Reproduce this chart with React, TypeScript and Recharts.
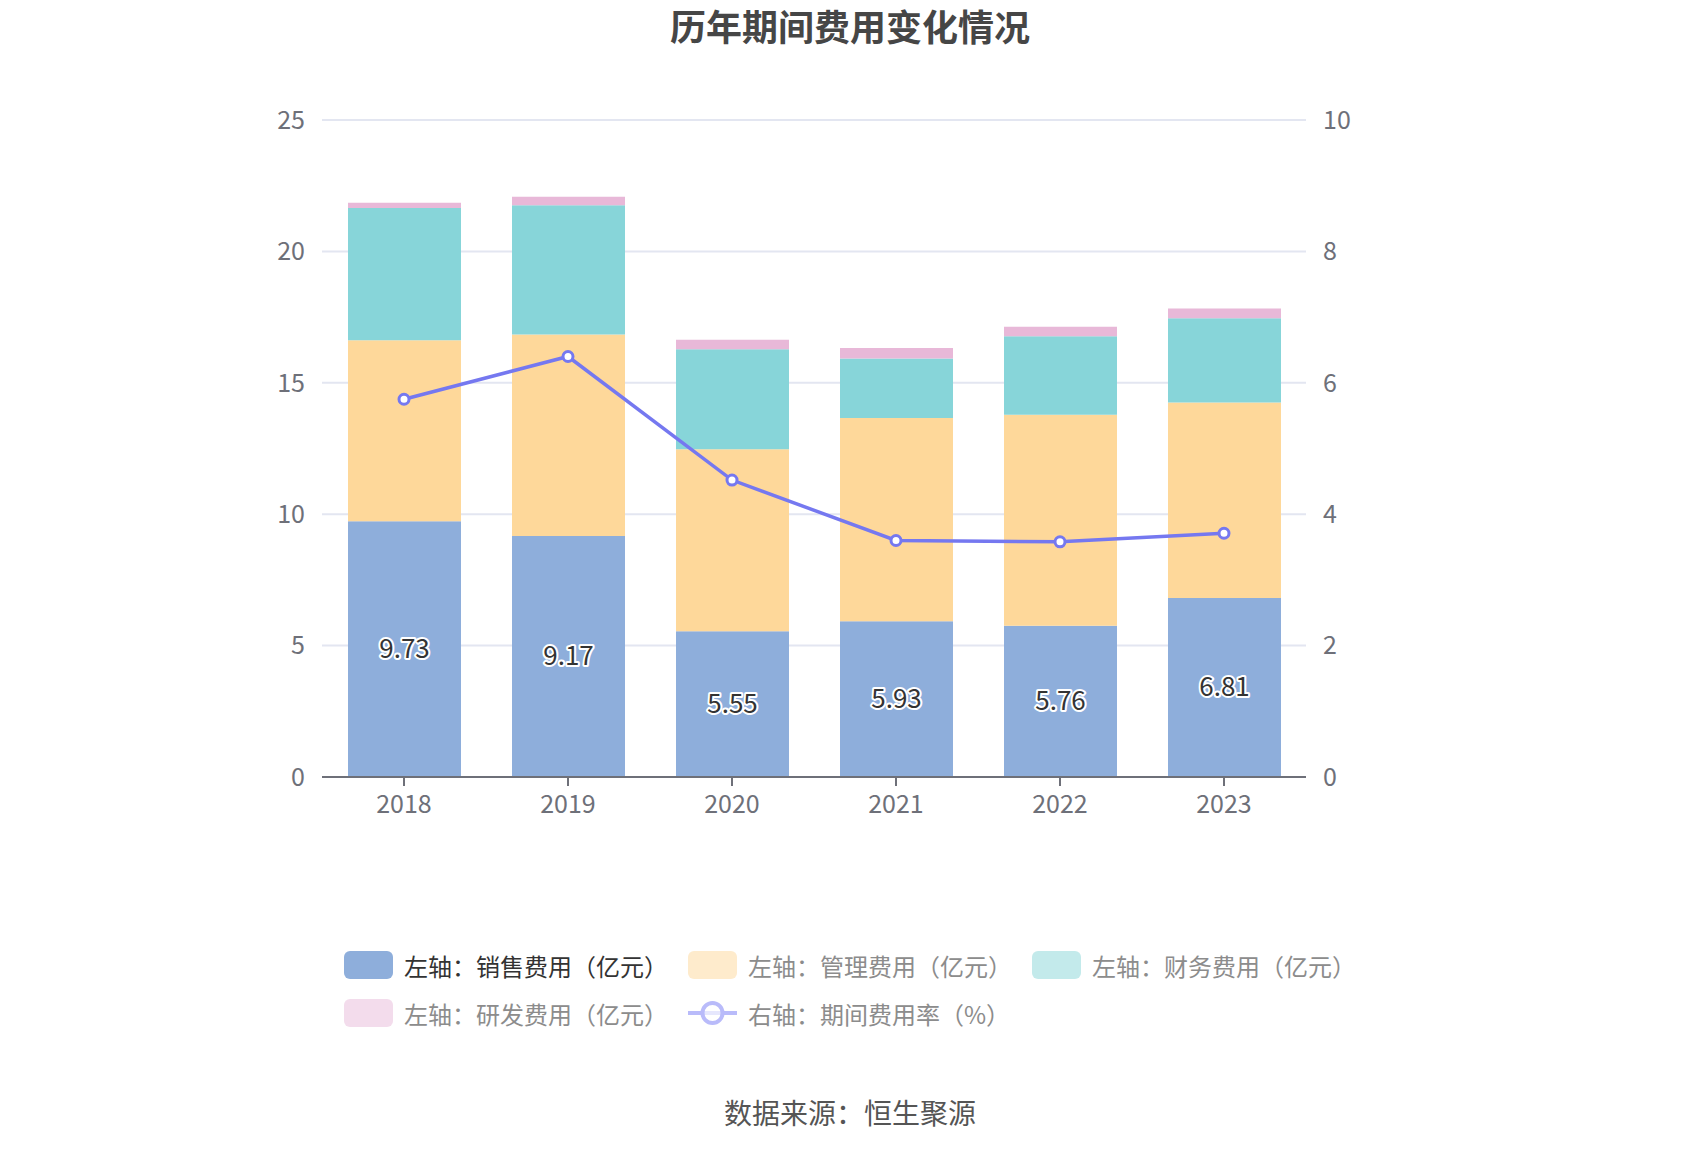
import React from 'react';
import { ComposedChart, Bar, Line, XAxis, YAxis, CartesianGrid, Legend, LabelList } from 'recharts';

const years = ['2018', '2019', '2020', '2021', '2022', '2023'];
const sales = [9.73, 9.17, 5.55, 5.93, 5.76, 6.81];
const mgmt = [6.89, 7.67, 6.92, 7.73, 8.02, 7.44];
const finance = [5.03, 4.92, 3.81, 2.26, 2.99, 3.21];
const rnd = [0.2, 0.32, 0.36, 0.4, 0.36, 0.37];
const rate = [5.75, 6.4, 4.52, 3.6, 3.58, 3.71];

const leftTicks = [0, 5, 10, 15, 20, 25];
const rightTicks = [0, 2, 4, 6, 8, 10];

const seriesNames = [
  '左轴：销售费用（亿元）',
  '左轴：管理费用（亿元）',
  '左轴：财务费用（亿元）',
  '左轴：研发费用（亿元）',
  '右轴：期间费用率（%）',
];

const data = years.map((y, i) => ({
  year: y,
  sales: sales[i],
  mgmt: mgmt[i],
  finance: finance[i],
  rnd: rnd[i],
  rate: rate[i],
}));

const FONT = '"Noto Sans CJK SC", "Noto Sans", sans-serif';
const C_SALES = '#8eaedb';
const C_MGMT = '#fed89a';
const C_FIN = '#87d5d9';
const C_RND = '#e8b8d8';
const C_LINE = '#7578f0';

const legendItems = [
  { name: seriesNames[0], color: C_SALES, text: '#333333', type: 'rect' },
  { name: seriesNames[1], color: '#feebcc', text: '#8c8c8c', type: 'rect' },
  { name: seriesNames[2], color: '#c3eaeb', text: '#8c8c8c', type: 'rect' },
  { name: seriesNames[3], color: '#f3dcec', text: '#8c8c8c', type: 'rect' },
  { name: seriesNames[4], color: '#b9bbfa', text: '#8c8c8c', type: 'line' },
];

const LegendContent = () => {
  const renderItem = (it: any) => (
    <div key={it.name} style={{ display: 'flex', alignItems: 'center', marginRight: 20, height: 48 }}>
      {it.type === 'rect' ? (
        <div style={{ width: 49, height: 28, borderRadius: 6, background: it.color }} />
      ) : (
        <svg width={49} height={28}>
          <line x1={0} y1={14} x2={49} y2={14} stroke={it.color} strokeWidth={4} />
          <circle cx={24.5} cy={14} r={10} fill="#fff" stroke={it.color} strokeWidth={4} />
          <line x1={14} y1={14} x2={35} y2={14} stroke={it.color} strokeWidth={4} opacity={0.35} />
        </svg>
      )}
      <span style={{ marginLeft: 11, fontSize: 24, color: it.text, fontFamily: FONT, whiteSpace: 'nowrap' }}>{it.name}</span>
    </div>
  );
  return (
    <div style={{ height: 96, width: 1100 }}>
      <div style={{ display: 'flex' }}>{legendItems.slice(0, 3).map(renderItem)}</div>
      <div style={{ display: 'flex' }}>{legendItems.slice(3).map(renderItem)}</div>
    </div>
  );
};

const SalesLabel = (props: any) => {
  const { x, y, width, height, value } = props;
  return (
    <text
      x={Number(x) + Number(width) / 2}
      y={Number(y) + Number(height) / 2 - 3}
      textAnchor="middle"
      dominantBaseline="central"
      fontSize={26}
      fontFamily={FONT}
      fill="#333"
      stroke="#fff"
      strokeWidth={4}
      strokeLinejoin="round"
      style={{ paintOrder: 'stroke' }}
    >
      {value}
    </text>
  );
};

export default function App() {
  return (
    <div style={{ position: 'absolute', left: 0, top: 0, width: 1700, height: 1150, background: '#fff', fontFamily: FONT }}>
      <div
        style={{
          position: 'absolute',
          left: 0,
          top: 0,
          width: 1700,
          height: 50,
          lineHeight: '50px',
          textAlign: 'center',
          fontSize: 36,
          fontWeight: 'bold',
          color: '#464646',
          fontFamily: FONT,
        }}
      >
        历年期间费用变化情况
      </div>
      <ComposedChart
        width={1700}
        height={1150}
        data={data}
        margin={{ top: 120, right: 294, bottom: 237, left: 0 }}
        barSize={113}
      >
        <CartesianGrid vertical={false} stroke="#e3e6f1" strokeWidth={2} yAxisId="left" />
        <XAxis
          dataKey="year"
          height={40}
          axisLine={{ stroke: '#6e7079', strokeWidth: 2 }}
          tickLine={{ stroke: '#6e7079', strokeWidth: 2 }}
          tickSize={9}
          tickMargin={9}
          tick={{ fontSize: 25, fill: '#6e7079', fontFamily: FONT }}
        />
        <YAxis
          yAxisId="left"
          orientation="left"
          width={322}
          domain={[0, 25]}
          ticks={leftTicks}
          axisLine={false}
          tickLine={false}
          tickSize={0}
          tickMargin={17}
          tick={{ fontSize: 25, fill: '#6e7079', fontFamily: FONT }}
        />
        <YAxis
          yAxisId="right"
          orientation="right"
          width={100}
          domain={[0, 10]}
          ticks={rightTicks}
          axisLine={false}
          tickLine={false}
          tickSize={0}
          tickMargin={17}
          tick={{ fontSize: 25, fill: '#6e7079', fontFamily: FONT, textAnchor: 'start' }}
        />
        <Legend
          verticalAlign="bottom"
          content={<LegendContent />}
          wrapperStyle={{ position: 'absolute', left: 344, top: 941, bottom: 'auto', width: 1100 }}
        />
        <Bar yAxisId="left" dataKey="sales" name={seriesNames[0]} stackId="a" fill={C_SALES} isAnimationActive={false}>
          <LabelList dataKey="sales" content={<SalesLabel />} />
        </Bar>
        <Bar yAxisId="left" dataKey="mgmt" name={seriesNames[1]} stackId="a" fill={C_MGMT} isAnimationActive={false} />
        <Bar yAxisId="left" dataKey="finance" name={seriesNames[2]} stackId="a" fill={C_FIN} isAnimationActive={false} />
        <Bar yAxisId="left" dataKey="rnd" name={seriesNames[3]} stackId="a" fill={C_RND} isAnimationActive={false} />
        <Line
          yAxisId="right"
          dataKey="rate"
          name={seriesNames[4]}
          stroke={C_LINE}
          strokeWidth={3.5}
          dot={{ r: 5, fill: '#fff', stroke: C_LINE, strokeWidth: 3 }}
          isAnimationActive={false}
        />
      </ComposedChart>
      <div
        style={{
          position: 'absolute',
          left: 0,
          top: 1092,
          width: 1700,
          height: 40,
          lineHeight: '40px',
          textAlign: 'center',
          fontSize: 28,
          color: '#555',
          fontFamily: FONT,
        }}
      >
        数据来源：恒生聚源
      </div>
    </div>
  );
}
